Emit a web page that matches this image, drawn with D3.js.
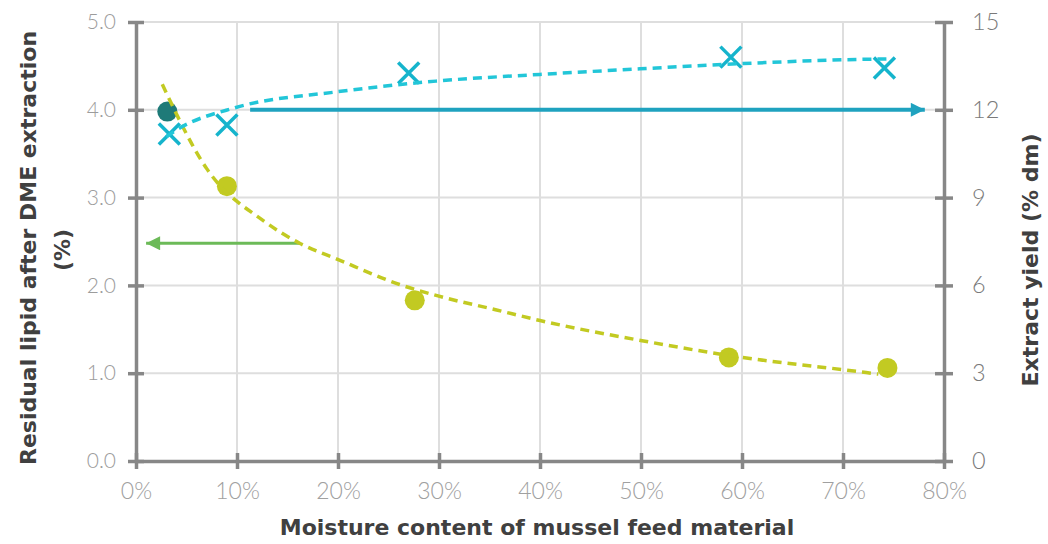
<!DOCTYPE html>
<html>
<head>
<meta charset="utf-8">
<script src="https://cdn.jsdelivr.net/npm/d3@7"></script>
<style>
    body { margin: 0; background: #fff; }
    svg { display: block; }
    .tick text { font-family: Lato, "Open Sans", sans-serif; font-weight: 300; }
    .title { font-family: "DejaVu Sans", sans-serif; font-weight: bold; fill: #404040; font-size: 22px; }
</style>
</head>
<body>
<svg id="chart"></svg>
<script>
// ticks
const xTicks = [0, 10, 20, 30, 40, 50, 60, 70, 80];
const lipidTicks = [0, 1, 2, 3, 4, 5];
const yieldTicks = [0, 3, 6, 9, 12, 15];

// residual lipid (%) -> left axis
const lipidMoisture = [9.0, 27.6, 58.7, 74.4];
const lipidValues = [3.13, 1.83, 1.18, 1.06];
const highlightMoisture = [3.1];
const highlightLipid = [3.98];

// extract yield (% dm) -> right axis
const yieldMoisture = [3.3, 9.0, 27.0, 58.9, 74.1];
const yieldValues = [11.17, 11.48, 13.26, 13.80, 13.43];

// trend lines
const lipidTrendX = [2.6, 7.0, 12.7, 16.2, 19.9, 26.1, 29.9, 35.7, 40.0, 50.1, 60.0, 70.0, 73.5];
const lipidTrendY = [4.29, 3.33, 2.73, 2.48, 2.30, 2.01, 1.88, 1.72, 1.60, 1.37, 1.18, 1.04, 0.99];
const yieldTrendX = [3.0, 4.0, 9.9, 19.8, 29.7, 40.0, 49.9, 60.1, 70.0, 74.3];
const yieldTrendY = [11.08, 11.31, 12.08, 12.61, 12.98, 13.21, 13.40, 13.58, 13.71, 13.74];

// axis pointer arrows: [from, to] in moisture %, at a value on their own axis
const yieldArrowX = [11.3, 78.1];
const yieldArrowValue = 12;
const lipidArrowX = [16.2, 1.0];
const lipidArrowValue = 2.48;

const width = 1048, height = 544;
const margin = { top: 22, right: 104, bottom: 83, left: 136 };
const innerW = width - margin.left - margin.right;
const innerH = height - margin.top - margin.bottom;

const axisColor = "#878787";
const gridColor = "#dedede";
const green = "#c2ca22";
const cyan = "#22c6d8";
const crossColor = "#15b4cc";

const svg = d3.select("#chart").attr("width", width).attr("height", height);

const defs = svg.append("defs");
function arrowMarker(id, color) {
    defs.append("marker")
        .attr("id", id)
        .attr("viewBox", "0 0 10 10")
        .attr("refX", 10).attr("refY", 5)
        .attr("markerUnits", "userSpaceOnUse")
        .attr("markerWidth", 15).attr("markerHeight", 14)
        .attr("orient", "auto")
        .append("path")
        .attr("d", "M0,0 L10,5 L0,10 Z")
        .attr("fill", color);
}
arrowMarker("arrowBlue", "#1fa2bf");
arrowMarker("arrowGreen", "#6cba58");

const x = d3.scaleLinear().domain([0, 80]).range([0, innerW]);
const yLeft = d3.scaleLinear().domain([0, 5]).range([innerH, 0]);
const yRight = d3.scaleLinear().domain([0, 15]).range([innerH, 0]);

const g = svg.append("g").attr("transform", `translate(${margin.left}, ${margin.top})`);

// grid
g.append("g")
    .selectAll("line")
    .data(lipidTicks.filter(d => d > 0))
    .join("line")
    .attr("x1", 0).attr("x2", innerW)
    .attr("y1", d => yLeft(d)).attr("y2", d => yLeft(d))
    .attr("stroke", gridColor).attr("stroke-width", 2);

g.append("g")
    .selectAll("line")
    .data(xTicks.filter(d => d > 0 && d < 80))
    .join("line")
    .attr("x1", d => x(d)).attr("x2", d => x(d))
    .attr("y1", 0).attr("y2", innerH)
    .attr("stroke", gridColor).attr("stroke-width", 2);

// arrows
g.append("line")
    .attr("x1", x(yieldArrowX[0])).attr("x2", x(yieldArrowX[1]))
    .attr("y1", yRight(yieldArrowValue)).attr("y2", yRight(yieldArrowValue))
    .attr("stroke", "#1fa2bf").attr("stroke-width", 4)
    .attr("marker-end", "url(#arrowBlue)");

g.append("line")
    .attr("x1", x(lipidArrowX[0])).attr("x2", x(lipidArrowX[1]))
    .attr("y1", yLeft(lipidArrowValue)).attr("y2", yLeft(lipidArrowValue))
    .attr("stroke", "#6cba58").attr("stroke-width", 3)
    .attr("marker-end", "url(#arrowGreen)");

// axes
function styleAxis(sel, inner) {
    sel.select(".domain").attr("stroke", axisColor).attr("stroke-width", 3.5);
    sel.selectAll(".tick line").attr("stroke", axisColor).attr("stroke-width", 3.5);
    inner(sel.selectAll(".tick line"));
}

g.append("g")
    .attr("transform", `translate(0, ${innerH})`)
    .call(d3.axisBottom(x).tickValues(xTicks).tickFormat(d => d + "%").tickSize(8).tickPadding(14).tickSizeOuter(0))
    .call(s => styleAxis(s, t => t.attr("y1", -8)))
    .call(s => s.selectAll(".tick text").attr("fill", "#a0a0a0").style("font-size", "23px"));

g.append("g")
    .call(d3.axisLeft(yLeft).tickValues(lipidTicks).tickFormat(d3.format(".1f")).tickSize(8).tickPadding(12).tickSizeOuter(0))
    .call(s => styleAxis(s, t => t.attr("x1", 8)))
    .call(s => s.selectAll(".tick text").attr("fill", "#9c9c9c").style("font-size", "21px"));

g.append("g")
    .attr("transform", `translate(${innerW}, 0)`)
    .call(d3.axisRight(yRight).tickValues(yieldTicks).tickSize(9).tickPadding(19).tickSizeOuter(0))
    .call(s => styleAxis(s, t => t.attr("x1", -9)))
    .call(s => s.selectAll(".tick text").attr("fill", "#7a7a7a").style("font-size", "23.5px"));

// markers
g.append("g")
    .selectAll("circle")
    .data(lipidMoisture)
    .join("circle")
    .attr("cx", d => x(d))
    .attr("cy", (d, i) => yLeft(lipidValues[i]))
    .attr("r", 10)
    .attr("fill", green);

g.append("g")
    .selectAll("circle")
    .data(highlightMoisture)
    .join("circle")
    .attr("cx", d => x(d))
    .attr("cy", (d, i) => yLeft(highlightLipid[i]))
    .attr("r", 10)
    .attr("fill", "#1e7a78");

const s = 10.5;
g.append("g")
    .selectAll("path")
    .data(yieldMoisture)
    .join("path")
    .attr("transform", (d, i) => `translate(${x(d)}, ${yRight(yieldValues[i])})`)
    .attr("d", `M${-s},${-s}L${s},${s}M${-s},${s}L${s},${-s}`)
    .attr("stroke", crossColor)
    .attr("stroke-width", 3.5)
    .attr("fill", "none");

// trend lines
const lipidLine = d3.line()
    .x((d, i) => x(d))
    .y((d, i) => yLeft(lipidTrendY[i]))
    .curve(d3.curveMonotoneX);

const yieldLine = d3.line()
    .x((d, i) => x(d))
    .y((d, i) => yRight(yieldTrendY[i]))
    .curve(d3.curveMonotoneX);

g.append("path")
    .attr("d", lipidLine(lipidTrendX))
    .attr("fill", "none")
    .attr("stroke", green)
    .attr("stroke-width", 3.5)
    .attr("stroke-dasharray", "9,6");

g.append("path")
    .attr("d", yieldLine(yieldTrendX))
    .attr("fill", "none")
    .attr("stroke", cyan)
    .attr("stroke-width", 3.5)
    .attr("stroke-dasharray", "9,6");

// titles
svg.append("text")
    .attr("class", "title")
    .attr("x", margin.left + innerW / 2 - 3)
    .attr("y", 535)
    .attr("text-anchor", "middle")
    .text("Moisture content of mussel feed material");

svg.append("text")
    .attr("class", "title")
    .attr("transform", "translate(36, 248) rotate(-90)")
    .attr("text-anchor", "middle")
    .text("Residual lipid after DME extraction");

svg.append("text")
    .attr("class", "title")
    .attr("transform", "translate(70, 250) rotate(-90)")
    .attr("text-anchor", "middle")
    .text("(%)");

svg.append("text")
    .attr("class", "title")
    .attr("transform", "translate(1038, 260) rotate(-90)")
    .attr("text-anchor", "middle")
    .text("Extract yield (% dm)");
</script>
</body>
</html>
